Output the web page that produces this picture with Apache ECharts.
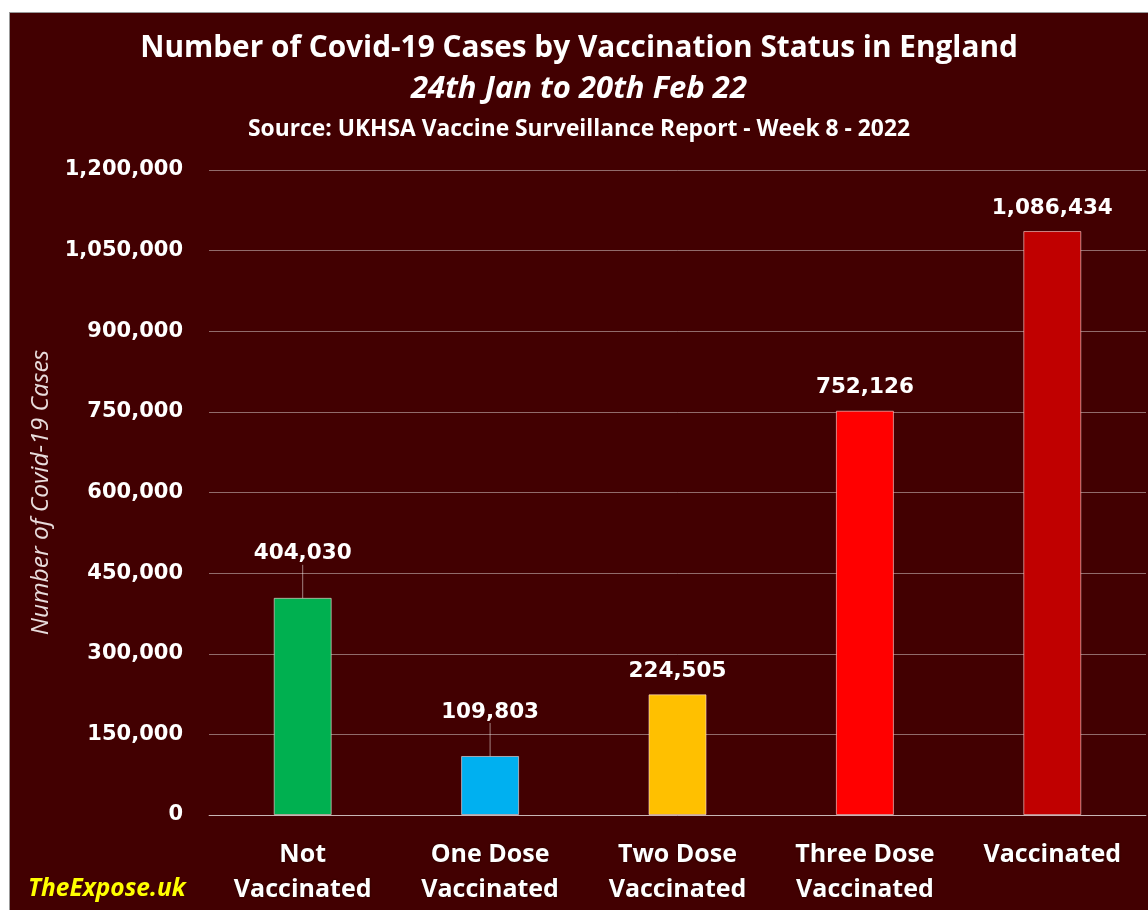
<!DOCTYPE html>
<html><head><meta charset="utf-8">
<script src="https://cdn.jsdelivr.net/npm/echarts@6/dist/echarts.min.js"></script>
<style>
html,body{margin:0;padding:0;background:#fff;width:1148px;height:910px;overflow:hidden}
#frame{position:absolute;left:9px;top:12px;width:1139px;height:898px;border-left:1px solid #999;border-top:1px solid #999}
#c{position:absolute;left:10px;top:13px;width:1138px;height:897px}
</style></head><body>
<div id="frame"></div>
<div id="c"></div>
<script>
const categories = ["Not\nVaccinated", "One Dose\nVaccinated", "Two Dose\nVaccinated", "Three Dose\nVaccinated", "Vaccinated"];
const cases = [404030, 109803, 224505, 752126, 1086434];
const barColors = ["#00B050", "#00B0F0", "#FFC000", "#FF0000", "#C00000"];
const liftedLabels = [true, true, false, false, false];
const yMax = 1200000, yStep = 150000;

const chart = echarts.init(document.getElementById('c'));
const narrow = '"Open Sans", sans-serif';
const verd = '"DejaVu Sans", Verdana, sans-serif';
chart.setOption({
  backgroundColor: '#420001',
  animation: false,
  title: [
    {text: 'Number of Covid-19 Cases by Vaccination Status in England', left: 'center', top: 16,
     textStyle: {color: '#fff', fontFamily: narrow, fontWeight: 'bold', fontSize: 29.8}},
    {text: '24th Jan to 20th Feb 22', left: 'center', top: 56,
     textStyle: {color: '#fff', fontFamily: narrow, fontWeight: 'bold', fontStyle: 'italic', fontSize: 31}},
    {text: 'Source: UKHSA Vaccine Surveillance Report - Week 8 - 2022', left: 'center', top: 100,
     textStyle: {color: '#fff', fontFamily: narrow, fontWeight: 'bold', fontSize: 22.8}}
  ],
  graphic: [
    {type: 'text', left: 18, top: 864, style: {text: 'TheExpose.uk', fill: '#FFFF00',
      font: 'italic bold 24.5px "Open Sans", sans-serif'}}
  ],
  grid: {left: 199, right: 2, top: 157, bottom: 95},
  xAxis: {
    type: 'category', data: categories,
    axisLine: {show: true, lineStyle: {color: 'rgba(255,255,255,0.5)'}},
    axisTick: {show: false},
    axisLabel: {color: '#fff', fontFamily: narrow, fontWeight: 'bold', fontSize: 25, lineHeight: 35, margin: 22,
      textShadowColor: 'rgba(0,0,0,0.6)', textShadowBlur: 2}
  },
  yAxis: {
    type: 'value', min: 0, max: yMax, interval: yStep,
    name: 'Number of Covid-19 Cases', nameLocation: 'middle', nameGap: 154,
    nameTextStyle: {color: '#e8dcdc', fontFamily: narrow, fontStyle: 'italic', fontSize: 24.5},
    axisLine: {show: false}, axisTick: {show: false},
    axisLabel: {color: '#fff', fontFamily: verd, fontWeight: 'bold', fontSize: 21, margin: 26,
      formatter: v => v.toLocaleString('en-US')},
    splitLine: {lineStyle: {color: 'rgba(255,255,255,0.42)', width: 1}}
  },
  series: [{
    type: 'bar', barWidth: 58,
    data: cases.map((v, i) => ({value: v, itemStyle: {color: barColors[i]},
      labelLine: {show: liftedLabels[i]}})),
    itemStyle: {borderColor: 'rgba(255,220,220,0.6)', borderWidth: 1},
    label: {show: true, position: 'top', distance: 12, color: '#fff', fontFamily: verd, fontWeight: 'bold', fontSize: 21.5,
      formatter: p => p.value.toLocaleString('en-US')},
    labelLine: {lineStyle: {color: 'rgba(255,255,255,0.5)', width: 1}},
    labelLayout: p => liftedLabels[p.dataIndex] ? {dy: -21} : {}
  }]
});
</script>
</body></html>
